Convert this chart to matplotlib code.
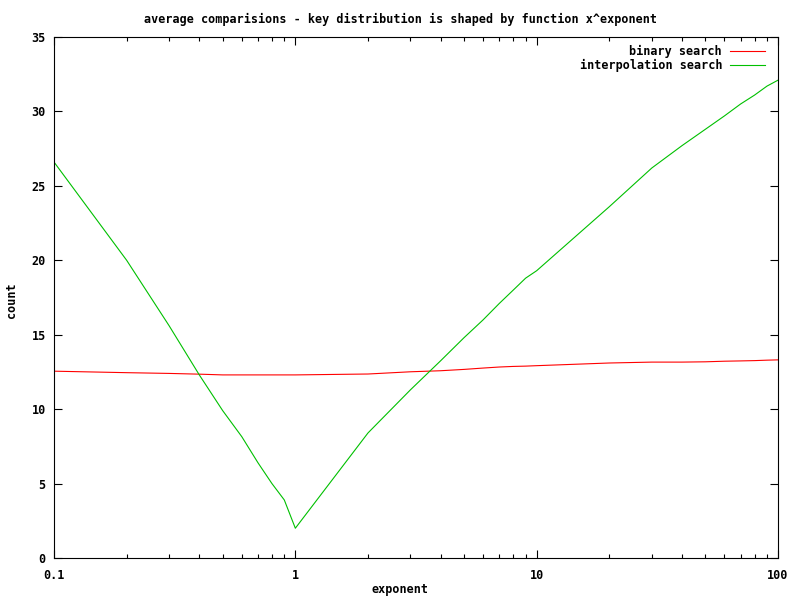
import matplotlib
matplotlib.use('Agg')
import matplotlib.pyplot as plt
from matplotlib.ticker import FixedLocator, FixedFormatter, NullFormatter

# exponent values (log-spaced samples)
exponent = [0.1, 0.2, 0.3, 0.4, 0.5, 0.6, 0.7, 0.8, 0.9, 1,
            2, 3, 4, 5, 6, 7, 8, 9, 10,
            20, 30, 40, 50, 60, 70, 80, 90, 100]

binary = [12.55, 12.45, 12.40, 12.35, 12.30, 12.30, 12.30, 12.30, 12.30, 12.30,
          12.36, 12.51, 12.58, 12.67, 12.76, 12.83, 12.87, 12.89, 12.92,
          13.10, 13.16, 13.16, 13.18, 13.22, 13.24, 13.26, 13.29, 13.31]

interpolation = [26.6, 20.0, 15.6, 12.3, 9.9, 8.15, 6.4, 5.0, 3.9, 2.0,
                 8.4, 11.3, 13.25, 14.8, 16.0, 17.1, 18.0, 18.8, 19.3,
                 23.6, 26.2, 27.7, 28.8, 29.7, 30.5, 31.1, 31.7, 32.1]

series_labels = ["binary search", "interpolation search"]
series_colors = ['#ff0000', '#00c000']

x_ticks = [0.1, 1, 10, 100]
x_tick_labels = ["0.1", "1", "10", "100"]
y_ticks = [0, 5, 10, 15, 20, 25, 30, 35]

plt.rcParams['font.family'] = ['DejaVu Sans Mono']
plt.rcParams['font.weight'] = 'bold'
fs = 8.5

fig = plt.figure(figsize=(8, 6), dpi=100)
ax = fig.add_axes([54 / 800, 42 / 600, 724 / 800, 521 / 600])

for vals, lab, col in zip([binary, interpolation], series_labels, series_colors):
    ax.plot(exponent, vals, color=col, linewidth=0.8, label=lab)

ax.set_xscale('log')
ax.set_xlim(0.1, 100)
ax.set_ylim(0, 35)

ax.xaxis.set_major_locator(FixedLocator(x_ticks))
ax.xaxis.set_major_formatter(FixedFormatter(x_tick_labels))
minor = [m * d for d in [0.1, 1, 10] for m in range(2, 10)]
ax.xaxis.set_minor_locator(FixedLocator(minor))
ax.xaxis.set_minor_formatter(NullFormatter())
ax.set_yticks(y_ticks)

ax.tick_params(which='major', direction='in', length=5.5, width=0.8,
               top=True, right=True, labelsize=fs, pad=6)
ax.tick_params(axis='x', which='major', pad=8)
ax.tick_params(which='minor', direction='in', length=3, width=0.8,
               top=True, right=False, left=False)
for s in ax.spines.values():
    s.set_linewidth(0.8)

fig.text(0.5, 1 - 19 / 600, "average comparisions - key distribution is shaped by function x^exponent",
         ha='center', va='center', fontsize=fs, fontweight='bold')
fig.text(0.5, 1 - 590 / 600, "exponent", ha='center', va='center', fontsize=fs, fontweight='bold')
fig.text(11 / 800, 0.5, "count", ha='center', va='center', rotation=90, fontsize=fs, fontweight='bold')

# gnuplot-style key: right-justified text, sample line to the right
for i, (lab, col) in enumerate(zip(series_labels, series_colors)):
    yk = 0.9731 - i * 0.0269
    ax.text(0.9227, yk, lab, transform=ax.transAxes, ha='right', va='center',
            fontsize=fs, fontweight='bold')
    ax.plot([0.9337, 0.982], [yk, yk], transform=ax.transAxes, color=col, linewidth=0.8)

fig.savefig('out.png', dpi=100)
